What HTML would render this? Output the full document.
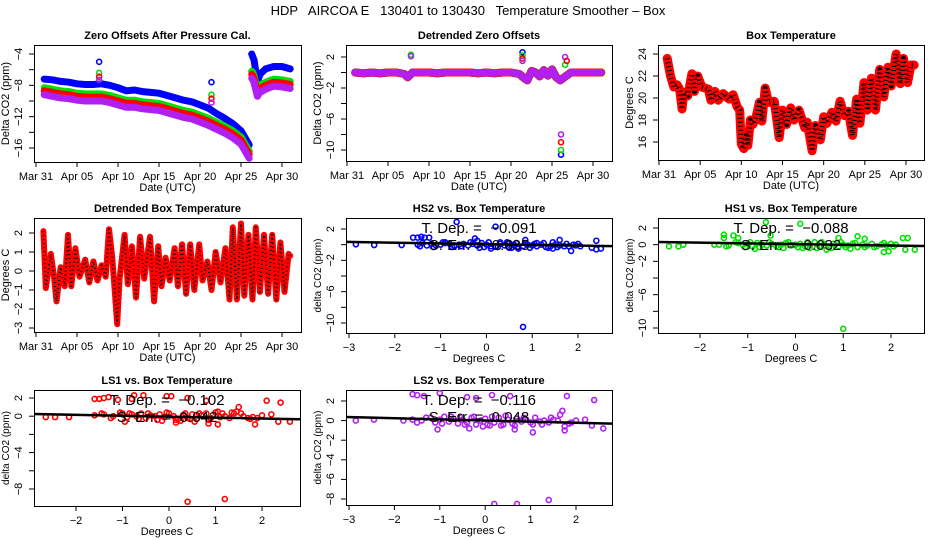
<!DOCTYPE html>
<html><head><meta charset="utf-8"><style>
html,body{margin:0;padding:0;background:#fff;}
svg{display:block;font-family:"Liberation Sans",sans-serif;}
</style></head><body>
<svg id="fig" width="936" height="540" viewBox="0 0 936 540">
<text x="468" y="15" text-anchor="middle" font-size="13" style="white-space:pre">HDP   AIRCOA E   130401 to 130430   Temperature Smoother – Box</text>
</svg>
<script>
// ---------- Panel 1: zero offsets ----------
const zoDays = [1,2,3,4,5,6,7,8,9,10,11,12,13,14,15,16,17,18,19,20,21,22,23,24,25,26,26.3,26.45,26.6,27,27.3,28,29,30,31];
const zoHS2 = [-7.2,-7.3,-7.5,-7.6,-7.8,-7.9,-7.9,-7.8,-8.0,-8.3,-8.7,-8.6,-8.8,-8.9,-9.0,-9.3,-9.6,-9.9,-10.1,-10.5,-10.9,-11.6,-12.2,-12.9,-13.8,-15.6,-4.0,-4.4,-4.8,-7.6,-6.6,-5.9,-5.6,-5.6,-5.9];
const zoHS1 = [-8.3,-8.5,-8.7,-8.8,-9.0,-9.1,-9.1,-9.1,-9.3,-9.6,-9.9,-9.9,-10.1,-10.2,-10.3,-10.6,-10.9,-11.2,-11.4,-11.8,-12.2,-12.7,-13.2,-13.8,-14.6,-16.4,-6.2,-6.4,-6.8,-8.6,-8.0,-7.6,-7.2,-7.3,-7.5];
const zoLS1 = [-8.7,-8.9,-9.1,-9.2,-9.4,-9.5,-9.5,-9.5,-9.7,-10.0,-10.3,-10.3,-10.5,-10.6,-10.7,-11.0,-11.3,-11.6,-11.8,-12.2,-12.6,-13.1,-13.6,-14.2,-15.0,-16.8,-6.6,-6.8,-7.2,-9.0,-8.4,-8.0,-7.6,-7.7,-7.9];
const zoLS2 = [-9.2,-9.4,-9.6,-9.7,-9.9,-10.0,-10.0,-10.0,-10.2,-10.5,-10.8,-10.8,-11.0,-11.1,-11.2,-11.5,-11.8,-12.1,-12.3,-12.7,-13.1,-13.6,-14.1,-14.7,-15.5,-17.3,-7.1,-7.3,-7.7,-9.4,-8.9,-8.5,-8.1,-8.2,-8.4];
const zoOutDays = [7.7,7.7,7.7,7.7,21.4,21.4,21.4,21.4];
const zoOutVals = [-5.0,-6.4,-6.9,-7.3,-7.6,-9.2,-9.7,-10.2];
const zoOutSer = ['HS2','HS1','LS1','LS2','HS2','HS1','LS1','LS2'];
// ---------- Panel 2: detrended zero offsets ----------
const dzDays = [1,2,3,4,5,6,7,7.4,8,9,10,11,12,13,14,15,16,17,18,19,20,21,21.7,22,22.5,23,23.5,24,24.5,25,25.5,26,27.3,28,29,30,31];
const dzVals = [0,-0.1,0,-0.1,0,0,-0.2,-0.6,0,0,0,-0.1,0,0,0,0,-0.1,0,-0.1,0,0,-0.2,-0.8,-1.0,0.2,0.0,-0.5,0.3,-0.4,0.4,-0.6,-1.0,0,0,0,0,0];
const dzOutDays = [7.8,7.8,21.4,21.4,21.4,21.4,26.1,26.1,26.1,26.1,26.6,26.6,26.8];
const dzOutVals = [2.3,2.1,2.6,2.2,1.8,1.5,-10.6,-10.0,-9.0,-8.0,1.0,2.0,1.5];
const dzOutSer = ['HS1','LS2','HS2','HS1','LS1','LS2','HS2','HS1','LS1','LS2','HS1','LS2','LS1'];
// ---------- Panel 3: box temperature ----------
const btDays = [1,1.4,1.8,2.2,2.5,2.8,3,3.5,4,4.3,4.7,5.2,6,6.3,6.8,7.2,7.8,8.5,9,9.5,9.8,10,10.3,10.6,10.8,11.1,11.4,11.8,12.2,12.5,12.9,13.3,14,14.6,15,15.5,16,16.4,17,17.7,18,18.6,19,19.6,20,20.4,21,21.5,22,22.5,23,23.5,24,24.4,24.9,25.3,25.8,26.3,26.8,27.3,27.8,28.2,28.8,29.3,29.7,30.2,30.6,31];
const btVals = [23.6,22,21,21.2,20.8,19,20.5,20.2,22.2,20.6,22,21,20.8,19.8,20.6,19.8,20.4,19.9,20.3,19.2,18.9,15.8,15.4,16.6,15.7,18,17.6,18.3,19.6,17.9,20.9,19.6,19.7,16.4,18.9,17.6,19.1,18,18.9,17.3,17.8,15.2,17.5,16.2,18.3,17.7,18.7,17.9,19.7,18.4,18.8,16.6,19.9,17.7,21.4,18.9,21.8,18.9,22.6,20.1,22.8,21.1,24,21.3,23.6,21.4,23,23];
// ---------- Panel 4: detrended box temperature ----------
const dbDays = [0.9,1.2,1.8,2.2,2.5,3,3.5,3.9,4.3,4.8,5.3,6,6.5,7,7.5,8,8.5,8.9,9.3,9.9,10.2,10.8,11.2,11.7,12.2,12.7,13.2,13.9,14.4,14.9,15.3,15.8,16.3,16.9,17.3,17.8,18.3,18.8,19.3,19.9,20.3,20.9,21.4,21.9,22.5,23.1,23.6,24,24.5,25,25.4,25.9,26.4,26.8,27.3,27.8,28.3,28.8,29.3,29.8,30.3,30.8,31];
const dbVals = [2.1,-0.9,0.9,-0.3,-1.6,0.2,-0.8,1.9,-0.8,1.2,-0.3,0.6,-0.6,0.5,-0.5,0.3,-0.3,2.2,0.7,-2.8,-0.4,1.9,-0.7,1.3,-1.4,1.8,-0.4,1.8,-1.6,1.3,-0.8,0.7,-0.5,1.2,-0.8,1.4,-1.2,1.4,-1,1.4,-0.5,0.5,-1,1,-0.6,1.2,-1.5,2.3,-1.5,2.5,-1.3,1.9,-1.5,2.3,-1.1,1.9,-1.2,1.9,-1.5,1.5,-1.1,0.9,0.8];
// ---------- Scatter panels ----------
const hs2X = [-2.85,-2.45,-1.85,-1.6,-1.5,-1.42,-1.35,-1.25,-0.65,0.2,-0.25,-0.2,0.85,1.6,2.4,1.75,1.85,2.3,2.4,2.5,0.8,-1.5,-1.4,-1.2,-1.1,-1,-0.9,-0.8,-0.7,-0.6,-0.5,-0.4,-0.3,-0.2,-0.1,0,0.1,0.2,0.3,0.4,0.5,0.6,0.7,0.8,0.9,1,1.1,1.2,1.3,1.4,1.5,1.9,2,0.1,0.7,1.45,-0.9,0.3,1.1,0.5,-1.3,-0.7,1.6,1.7,-1.45,-1.15,-0.95,-0.75,-0.55,-0.35,-0.15,0.05,0.25,0.45,0.65,0.85,1.05,1.25,1.35,1.45,1.55,1.8,1.95,2.05,-0.05,0.55,0.95];
const hs2Y = [0.05,-0.05,-0.05,0.9,0.9,1.0,0.9,0.9,2.9,2.3,0.8,0.5,0.6,0.6,0.5,0.1,-0.8,-0.4,-0.6,-0.5,-10.5,0,0.2,0.1,-0.1,0,0.2,0.1,-0.1,0,0.1,-0.1,0.1,-0.1,0.2,0,-0.2,-0.2,0.1,-0.1,0.2,0,-0.3,-0.2,0,-0.1,-0.2,0,-0.3,-0.2,0,0,0.1,-0.5,-0.5,-0.5,0.3,0.3,0.2,-0.4,-0.1,-0.2,-0.1,-0.2,-0.2,-0.3,0.3,-0.3,-0.2,0.3,-0.4,0.3,-0.3,0.3,0.2,0.2,0.1,0.2,-0.4,0.3,-0.3,-0.2,-0.1,-0.2,-0.3,-0.4,-0.4];
const hs2Fit = [0.07,-0.091];
const hs2Txt = ['T. Dep. =  −0.091','S. Err. =  0.035'];
const hs1X = [-2.65,-2.45,-2.35,-1.7,-1.5,-1.5,-1.3,-1.2,-0.62,-0.52,0.1,0.9,1.3,1.45,2.25,2.35,1.85,1.95,2.3,2.5,1,-1.6,-1.4,-1.2,-1.1,-1,-0.9,-0.8,-0.7,-0.6,-0.5,-0.4,-0.3,-0.2,-0.1,0,0.1,0.2,0.3,0.4,0.5,0.6,0.7,0.8,0.9,1,1.1,1.2,1.3,1.4,1.5,1.6,1.7,1.8,1.9,2,2.1,0.65,-0.85,0.3,1.15,-1.45,-1.25,-1.05,-0.95,-0.75,-0.55,-0.35,-0.15,0.05,0.25,0.45,0.55,0.75,0.95,1.05,1.25,1.45,1.65,1.85,2.05,-0.25,0.15];
const hs1Y = [-0.2,-0.2,0,0,1.2,0.8,1.1,0.8,2.7,1.1,2.5,0.8,1,0.7,0.8,0.8,-0.9,-0.8,-0.6,-0.6,-10.1,0,-0.1,0.2,0,0.1,-0.2,0.2,0,-0.1,0.1,-0.2,0,0.2,-0.1,0,0.1,-0.2,0,0.3,-0.2,0,-0.3,0.1,-0.2,0,-0.1,0.1,-0.3,0,-0.1,0.1,-0.2,0,-0.1,0.1,0,-0.6,-0.5,-0.4,-0.5,-0.2,0.3,-0.3,0.3,-0.3,0.3,-0.3,0.3,-0.3,0.3,-0.4,0.3,-0.4,0.3,-0.3,0.2,-0.3,-0.3,0.2,-0.2,-0.4,-0.4];
const hs1Fit = [0.07,-0.088];
const hs1Txt = ['T. Dep. =  −0.088','S. Err. =  0.032'];
const ls1X = [-2.65,-2.45,-2.15,-1.6,-1.5,-1.4,-1.3,-1.1,-0.75,-0.8,-0.55,-0.05,0.05,0.4,0.8,1.5,2.1,2.4,1.85,2.35,2.6,1.05,0.85,0.4,1.2,-1.6,-1.4,-1.2,-1,-0.9,-0.8,-0.7,-0.6,-0.5,-0.4,-0.3,-0.2,-0.1,0,0.1,0.2,0.3,0.4,0.5,0.6,0.7,0.8,0.9,1,1.1,1.2,1.3,1.4,1.6,1.7,1.8,1.9,2,2.2,-0.95,0.15,0.55,-1.45,-1.25,-1.05,-0.85,-0.65,-0.45,-0.25,-0.05,0.15,0.35,0.45,0.65,0.85,1.05,1.15,1.35,1.45,1.55,1.75,-0.15,0.25];
const ls1Y = [-0.1,-0.1,-0.1,1.9,1.9,2,2.1,1.8,2.3,1.9,2.3,2.2,2.2,2,1.7,1,1.7,1.5,-0.9,-0.6,-0.6,-0.9,-0.8,-9.4,-9.1,0.1,0.2,0,0.3,-0.1,0.2,0,0.3,-0.2,0.1,0,0.2,-0.1,0.3,0,-0.3,0.1,-0.2,0.2,-0.3,0.1,0.3,-0.2,0.4,-0.1,0,-0.2,0.3,0,-0.2,-0.1,-0.2,0.1,0.2,-0.6,-0.7,-0.6,0.3,-0.2,0.4,0.3,-0.3,0.3,-0.4,0.4,-0.4,0.3,-0.3,0.3,-0.4,0.5,0.3,0.4,0.5,0.3,-0.3,-0.5,-0.5];
const ls1Fit = [-0.05,-0.102];
const ls1Txt = ['T. Dep. =  −0.102','S. Err. =  0.042'];
const ls2X = [-2.85,-2.45,-1.6,-1.5,-1.35,-1,-0.4,-0.2,0.15,0.55,1.8,2.4,1.7,2.6,1.05,-1.05,1.75,0.2,0.7,1.4,-1.8,-1.6,-1.4,-1.2,-1.1,-1,-0.9,-0.8,-0.7,-0.6,-0.5,-0.4,-0.3,-0.2,-0.1,0,0.1,0.2,0.3,0.4,0.5,0.6,0.7,0.8,0.9,1,1.1,1.2,1.3,1.4,1.5,1.6,1.9,2,2.2,2.35,0.65,-0.35,0.05,-1.5,-1.3,-0.95,-0.75,-0.55,-0.45,-0.25,-0.05,0.15,0.35,0.45,0.65,0.85,1.05,1.25,1.45,1.65,1.75,1.85];
const ls2Y = [0,0.1,2.7,2.6,2.5,2.8,2.4,2.3,2.6,2.5,2.5,2.1,1,-0.8,-1.2,-0.9,-1,-8.5,-8.5,-8.1,0,0.1,0,0.3,-0.2,0.1,0.4,-0.1,0.2,-0.3,0.1,-0.2,0.3,-0.4,0,0.2,-0.5,-0.2,0.3,-0.4,0.1,-0.3,0.2,-0.1,0.1,-0.2,0.3,-0.1,0,-0.2,0.1,0,-0.2,0,0.1,-0.5,-0.9,-0.8,-0.4,-0.2,0.3,-0.3,0.4,0.4,-0.4,0.4,-0.6,0.4,-0.5,0.5,-0.5,0.3,-0.4,-0.4,0.3,0.6,-0.6,-0.3];
const ls2Fit = [0.01,-0.116];
const ls2Txt = ['T. Dep. =  −0.116','S. Err. =  0.048'];

const NS='http://www.w3.org/2000/svg';
const svg=document.getElementById('fig');
const COL={HS2:'#0000ff',HS1:'#00e000',LS1:'#ff0000',LS2:'#b020f0'};
function el(tag,attrs,parent){const e=document.createElementNS(NS,tag);for(const k in attrs)e.setAttribute(k,attrs[k]);(parent||svg).appendChild(e);return e;}
function txt(x,y,s,attrs,parent){const t=el('text',Object.assign({x:x,y:y},attrs||{}),parent);t.textContent=s;return t;}

function panel(cfg){
  const g=el('g',{});
  
  
  const {L,R,T,B}=cfg;
  const sx=v=>cfg.x0px+(v-cfg.x0)*(cfg.x1px-cfg.x0px)/(cfg.x1-cfg.x0);
  const sy=v=>cfg.y0px+(v-cfg.y0)*(cfg.y1px-cfg.y0px)/(cfg.y1-cfg.y0);
  const t=txt((L+R)/2,T-6,cfg.title,{'text-anchor':'middle','font-size':'11','font-weight':'bold'},g);
  
  
  const ax=el('g',{stroke:'#000','stroke-width':'1',fill:'none'},g);
  
  
  el('rect',{x:L+0.5,y:T+0.5,width:R-L,height:B-T},ax);
  const xt=cfg.xticks; 
  el('line',{x1:sx(xt[0]),x2:sx(xt[xt.length-1]),y1:B+0.5,y2:B+0.5},ax);
  xt.forEach((v,i)=>{el('line',{x1:sx(v),x2:sx(v),y1:B,y2:B+5},ax);
    const lt=txt(sx(v),B+18,cfg.xlabels[i],{'text-anchor':'middle','font-size':'11'},g);
    
    });
  const yt=cfg.yticks;
  el('line',{x1:L+0.5,x2:L+0.5,y1:sy(yt[0]),y2:sy(yt[yt.length-1])},ax);
  yt.forEach((v,i)=>{el('line',{x1:L-5,x2:L,y1:sy(v),y2:sy(v)},ax);
    if(cfg.ylabels[i]!==''){const lx=L-12,ly=sy(v);
      const lt=txt(lx,ly,cfg.ylabels[i],{'text-anchor':'middle','font-size':'11',transform:`rotate(-90 ${lx} ${ly})`},g);
      
      }});
  const xa=txt((L+R)/2,B+29,cfg.xtitle,{'text-anchor':'middle','font-size':'11'},g);
  
  
  const yx=L-25,yy=(T+B)/2;
  const ya=txt(yx,yy,cfg.ytitle,{'text-anchor':'middle','font-size':cfg.ytsize||'11',transform:`rotate(-90 ${yx} ${yy})`},g);
  
  
  const clipId='c'+cfg.name;
  const cp=el('clipPath',{id:clipId},g);el('rect',{x:L,y:T,width:R-L,height:B-T},cp);
  const plot=el('g',{'clip-path':`url(#${clipId})`},g);
  
  
  return {g,plot,sx,sy};
}
function band(p,xs,ys,color,w,name,dots){
  const pts=xs.map((x,i)=>p.sx(x).toFixed(1)+','+p.sy(ys[i]).toFixed(1)).join(' ');
  const l=el('polyline',{points:pts,fill:'none',stroke:color,'stroke-width':w,'stroke-linejoin':'round','stroke-linecap':'round'},p.plot);
  
  
  if(dots){const d=el('polyline',{points:pts,fill:'none',stroke:dots,'stroke-width':Math.max(1,w-4),'stroke-dasharray':'1 3','stroke-linejoin':'round'},p.plot);
    
    }
}
function pt(p,x,y,color,name){
  const c=el('circle',{cx:p.sx(x),cy:p.sy(y),r:2.5,fill:'none',stroke:color,'stroke-width':1.6},p.plot);
  
  
}
const dateTicks=[0,5,10,15,20,25,30];
const dateLabels=['Mar 31','Apr 05','Apr 10','Apr 15','Apr 20','Apr 25','Apr 30'];

// Panel 1
let p=panel({name:'zero-offsets-panel',title:'Zero Offsets After Pressure Cal.',L:34,R:301,T:45,B:162,
  x0:0,x1:30,x0px:36,x1px:282,y0:-4,y1:-16,y0px:54,y1px:148,
  xticks:dateTicks,xlabels:dateLabels,yticks:[-4,-6,-8,-10,-12,-14,-16],ylabels:['-4','','-8','','-12','','-16'].map(s=>s.replace('-','−')),
  xtitle:'Date (UTC)',ytitle:'Delta CO2 (ppm)'});
const s1=[['HS2',zoHS2],['HS1',zoHS1],['LS1',zoLS1],['LS2',zoLS2]];
s1.forEach(([k,v])=>{
  const before=zoDays.filter(d=>d<=26).length;
  band(p,zoDays.slice(0,before),v.slice(0,before),COL[k],7,'series-'+k.toLowerCase());
  band(p,zoDays.slice(before),v.slice(before),COL[k],7,'series-'+k.toLowerCase()+'-late');
});
zoOutDays.forEach((d,i)=>pt(p,d,zoOutVals[i],COL[zoOutSer[i]],'outlier-point'));

// Panel 2
p=panel({name:'detrended-zero-offsets-panel',title:'Detrended Zero Offsets',L:346,R:612,T:45,B:161,
  x0:0,x1:30,x0px:347,x1px:593,y0:2,y1:-10,y0px:57,y1px:150,
  xticks:dateTicks,xlabels:dateLabels,yticks:[2,0,-2,-4,-6,-8,-10],ylabels:['2','','−2','','−6','','−10'],
  xtitle:'Date (UTC)',ytitle:'Delta CO2 (ppm)'});
['HS2','HS1','LS1','LS2'].forEach((k,j)=>band(p,dzDays,dzVals,COL[k],j==3?7:8,'series-'+k.toLowerCase()));
dzOutDays.forEach((d,i)=>pt(p,d,dzOutVals[i],COL[dzOutSer[i]],'outlier-point'));

// Panel 3
p=panel({name:'box-temperature-panel',title:'Box Temperature',L:658,R:924,T:45,B:160,
  x0:0,x1:30,x0px:659,x1px:906,y0:24,y1:16,y0px:54,y1px:142,
  xticks:dateTicks,xlabels:dateLabels,yticks:[16,18,20,22,24],ylabels:['16','18','20','22','24'],
  xtitle:'Date (UTC)',ytitle:'Degrees C'});
band(p,btDays,btVals,'#ff0000',9,'box-temperature-series','#000');

// Panel 4
p=panel({name:'detrended-box-temperature-panel',title:'Detrended Box Temperature',L:34,R:301,T:218,B:332,
  x0:0,x1:30,x0px:36,x1px:282,y0:2,y1:-3,y0px:233,y1px:328,
  xticks:dateTicks,xlabels:dateLabels,yticks:[-3,-2,-1,0,1,2],ylabels:['−3','−2','−1','0','1','2'],
  xtitle:'Date (UTC)',ytitle:'Degrees C'});
band(p,dbDays,dbVals,'#ff0000',6,'detrended-temperature-series','#000');

function scatter(cfg,X,Y,fit,lines,color){
  const p=panel(cfg);
  const xa=cfg.x0+(cfg.L-cfg.x0px)*(cfg.x1-cfg.x0)/(cfg.x1px-cfg.x0px);
  const xb=cfg.x0+(cfg.R-cfg.x0px)*(cfg.x1-cfg.x0)/(cfg.x1px-cfg.x0px);
  const cx=(cfg.L+cfg.R)/2;
  const t1=txt(cx,cfg.T+15,lines[0],{'text-anchor':'middle','font-size':'15','style':'white-space:pre'},p.g);
  
  
  const t2=txt(cx,cfg.T+32,lines[1],{'text-anchor':'middle','font-size':'15','style':'white-space:pre'},p.g);
  
  
  X.forEach((x,i)=>pt(p,x,Y[i],color,'data-point'));
  const fl=el('line',{x1:p.sx(xa),x2:p.sx(xb),y1:p.sy(fit[0]+fit[1]*xa),y2:p.sy(fit[0]+fit[1]*xb),stroke:'#000','stroke-width':2.5},p.plot);
  
  
}
scatter({name:'hs2-scatter-panel',title:'HS2 vs. Box Temperature',L:346,R:612,T:218,B:333,
  x0:-3,x1:2,x0px:349,x1px:578,y0:2,y1:-10,y0px:229,y1px:323,
  xticks:[-3,-2,-1,0,1,2],xlabels:['−3','−2','−1','0','1','2'],yticks:[2,0,-2,-4,-6,-8,-10],ylabels:['2','','−2','','−6','','−10'],
  xtitle:'Degrees C',ytitle:'delta CO2 (ppm)',ytsize:'10'},hs2X,hs2Y,hs2Fit,hs2Txt,COL.HS2);
scatter({name:'hs1-scatter-panel',title:'HS1 vs. Box Temperature',L:658,R:924,T:218,B:333,
  x0:-2,x1:2,x0px:700,x1px:891,y0:2,y1:-10,y0px:228,y1px:328,
  xticks:[-2,-1,0,1,2],xlabels:['−2','−1','0','1','2'],yticks:[2,0,-2,-4,-6,-8,-10],ylabels:['2','0','−2','','−6','','−10'],
  xtitle:'Degrees C',ytitle:'delta CO2 (ppm)',ytsize:'10'},hs1X,hs1Y,hs1Fit,hs1Txt,COL.HS1);
scatter({name:'ls1-scatter-panel',title:'LS1 vs. Box Temperature',L:34,R:300,T:390,B:506,
  x0:-2,x1:2,x0px:76,x1px:262,y0:2,y1:-8,y0px:398,y1px:489,
  xticks:[-2,-1,0,1,2],xlabels:['−2','−1','0','1','2'],yticks:[2,0,-2,-4,-6,-8],ylabels:['2','0','','−4','','−8'],
  xtitle:'Degrees C',ytitle:'delta CO2 (ppm)',ytsize:'10'},ls1X,ls1Y,ls1Fit,ls1Txt,COL.LS1);
scatter({name:'ls2-scatter-panel',title:'LS2 vs. Box Temperature',L:346,R:612,T:390,B:505,
  x0:-3,x1:2,x0px:349,x1px:576,y0:2,y1:-8,y0px:401,y1px:499,
  xticks:[-3,-2,-1,0,1,2],xlabels:['−3','−2','−1','0','1','2'],yticks:[2,0,-2,-4,-6,-8],ylabels:['2','0','−2','−4','−6','−8'],
  xtitle:'Degrees C',ytitle:'delta CO2 (ppm)',ytsize:'10'},ls2X,ls2Y,ls2Fit,ls2Txt,COL.LS2);
</script>
</body></html>
